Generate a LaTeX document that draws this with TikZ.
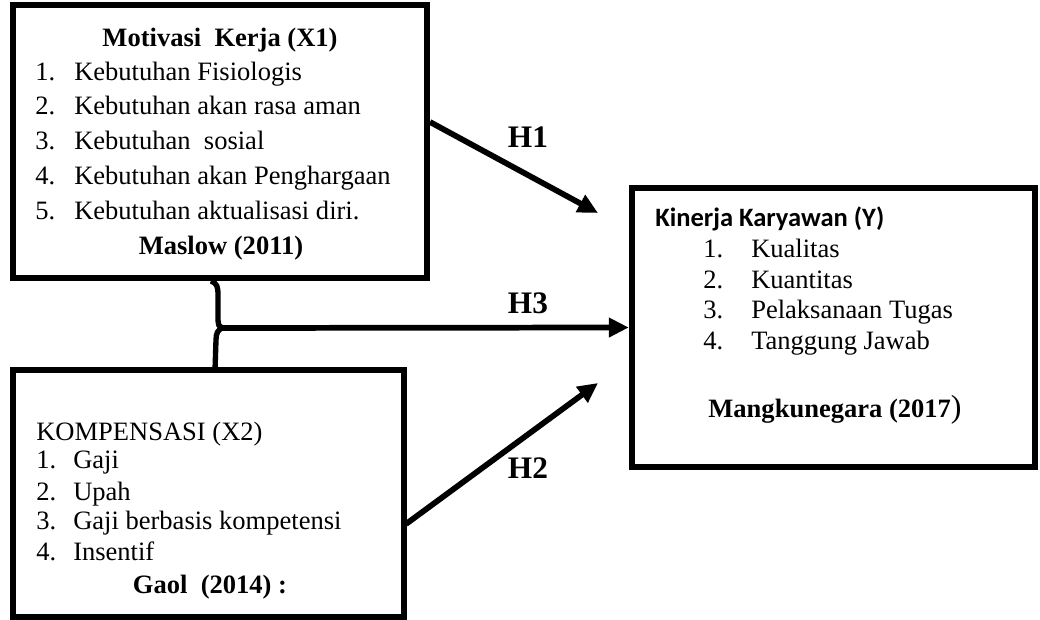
\documentclass[tikz,border=0pt]{standalone}
\usepackage{fontspec}
\setmainfont{Liberation Serif}
\newfontfamily\calibri{Carlito}
\usetikzlibrary{arrows.meta,fit}
\begin{document}
\begin{tikzpicture}[x=0.75pt,y=-0.75pt,
  box/.style={draw, line width=4.8pt, inner sep=0pt},
  txt/.style={anchor=base west, inner sep=0pt, font=\fontsize{19.9}{24}\selectfont},
  ctxt/.style={anchor=base, inner sep=0pt, font=\fontsize{19.9}{24}\selectfont\bfseries},
  hlab/.style={anchor=base, inner sep=0pt, font=\fontsize{23.5}{28}\selectfont\bfseries},
  arr/.style={line width=4.3pt, -{Triangle[length=15pt,width=14pt]}}]
\useasboundingbox (0,0) rectangle (1040,620);

% boxes
\node[box, fit={(13,5) (427,278)}] (x1) {};
\node[box, fit={(13,370) (404,617)}] (x2) {};
\node[box, fit={(632,188) (1035,467)}] (yy) {};

% box 1 text
\node[ctxt] (t1) at (220,47) {Motivasi\ \ Kerja (X1)};
\node[txt] (n11) at (35,81) {1.};  \node[txt] (i11) at (74,81) {Kebutuhan Fisiologis};
\node[txt] (n12) at (35,115) {2.}; \node[txt] (i12) at (74,115) {Kebutuhan akan rasa aman};
\node[txt] (n13) at (35,150) {3.}; \node[txt] (i13) at (74,150) {Kebutuhan\ \ sosial};
\node[txt] (n14) at (35,185) {4.}; \node[txt] (i14) at (74,185) {Kebutuhan akan Penghargaan};
\node[txt] (n15) at (35,220) {5.}; \node[txt] (i15) at (74,220) {Kebutuhan aktualisasi diri.};
\node[ctxt] (m1) at (221,255) {Maslow (2011)};

% box 2 text
\node[txt] (t2) at (36,441) {KOMPENSASI (X2)};
\node[txt] (n21) at (36,469) {1.}; \node[txt] (i21) at (73,469) {Gaji};
\node[txt] (n22) at (36,500) {2.}; \node[txt] (i22) at (73,500) {Upah};
\node[txt] (n23) at (36,530) {3.}; \node[txt] (i23) at (73,530) {Gaji berbasis kompetensi};
\node[txt] (n24) at (36,561) {4.}; \node[txt] (i24) at (73,561) {Insentif};
\node[ctxt] (g2) at (210,593) {Gaol\ \ (2014) :};

% box Y text
\node[txt, font=\calibri\bfseries\fontsize{19.9}{24}\selectfont] (t3) at (655,227) {Kinerja Karyawan (Y)};
\node[txt] (n31) at (703,258) {1.}; \node[txt] (i31) at (751,258) {Kualitas};
\node[txt] (n32) at (703,289) {2.}; \node[txt] (i32) at (751,289) {Kuantitas};
\node[txt] (n33) at (703,319) {3.}; \node[txt] (i33) at (751,319) {Pelaksanaan Tugas};
\node[txt] (n34) at (703,350) {4.}; \node[txt] (i34) at (751,350) {Tanggung Jawab};
\node[ctxt] (m3) at (835,418) {Mangkunegara (2017{\fontsize{24}{24}\selectfont\mdseries )}};

% brace joining X1 and X2
\coordinate (bt) at (211,281);
\coordinate (bc) at (222,328);
\coordinate (bb) at (215,370);
\draw[line width=4pt] (bt) .. controls (217,283) and (218,287) .. (218,295) -- (218,318)
  .. controls (218,325) and (219,327) .. (bc)
  .. controls (218,330) and (216,333) .. (216,340) -- (bb);

% arrows
\coordinate (h1a) at (430,122);
\coordinate (h1b) at (598,213);
\coordinate (h2a) at (406,524);
\coordinate (h2b) at (598,383);
\draw[arr] (h1a) -- (h1b);
\draw[arr] (bc) -- (yy.west);
\draw[arr] (h2a) -- (h2b);

% labels
\node[hlab] (h1) at (528,148) {H1};
\node[hlab] (h3) at (528,314) {H3};
\node[hlab] (h2) at (528,479) {H2};
\end{tikzpicture}
\end{document}
